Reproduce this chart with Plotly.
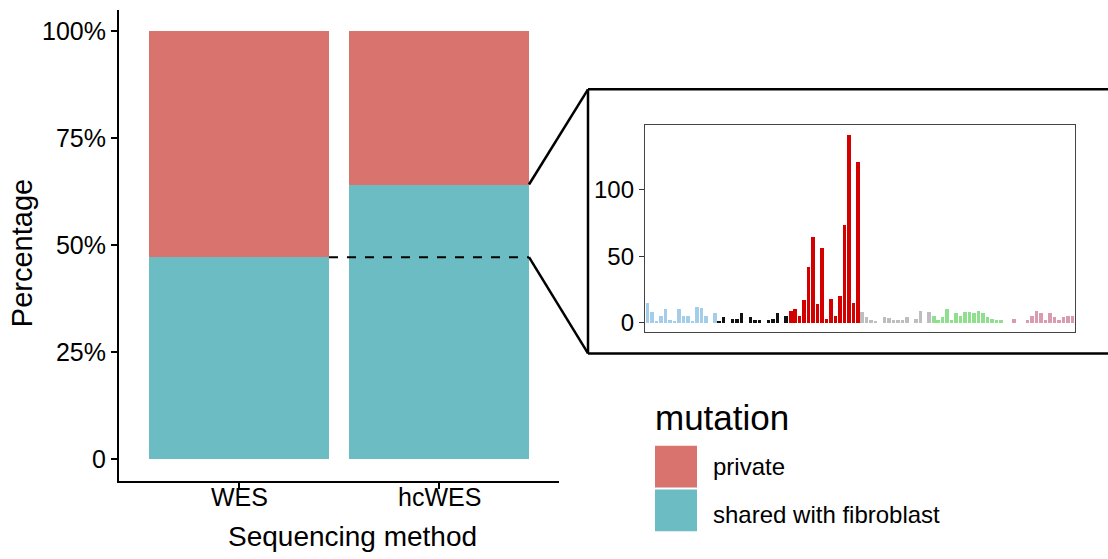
import plotly.graph_objects as go

# ---- main stacked bars: share of mutations per sequencing method ----
methods = ["WES", "hcWES"]
shared_pct = [47.2, 64.2]
private_pct = [100 - v for v in shared_pct]
y_tickvals = [0, 25, 50, 75, 100]
y_ticktext = ["0", "25%", "50%", "75%", "100%"]

# ---- inset: 96-channel substitution spectrum (counts) ----
ca_counts = [15, 8, 1, 5, 10, 2, 0.5, 10, 5, 5, 1, 12, 11, 5, 0, 7]
cg_counts = [1, 4, 0, 2.5, 2.5, 7, 0, 4, 2, 2, 0, 2, 3, 7, 0, 5]
ct_counts = [9, 10, 5, 17, 42, 64, 14, 56, 3, 18, 5, 20, 73, 141, 15, 121]
ta_counts = [8, 4, 2, 1, 0, 4, 3.5, 2, 2, 2, 4, 0, 3, 9, 0, 8]
tc_counts = [5, 2, 4, 10, 2, 7, 5, 8, 8, 7, 9, 7, 4, 3, 2, 2]
tg_counts = [0, 0, 3, 0, 0, 2, 5, 9, 7, 2, 7, 4, 2, 4, 5, 5]
inset_ticks = [0, 50, 100]

W, H = 1108, 559
RED = "#D9736D"
TEAL = "#6BBDC3"
FONT = "Liberation Sans"
group_colors = ["#A3CDE8", "#111111", "#D40000", "#BEBEBE", "#8FDF8F", "#D89BB1"]
groups = [ca_counts, cg_counts, ct_counts, ta_counts, tc_counts, tg_counts]

spectrum = []
spectrum_colors = []
for vals, col in zip(groups, group_colors):
    spectrum += vals
    spectrum_colors += [col] * len(vals)
channel = list(range(len(spectrum)))


def px_x(p):
    return p / W


def px_y(p):
    return 1 - p / H


# axis placement (pixels)
main_left, main_right, main_top, main_bottom = 119, 559, 10, 484
main_xrange = [-0.6, 1.6]
main_yrange = [-5, 105]
ins_left, ins_right, ins_top, ins_bottom = 645, 1075, 126, 334


def main_to_px(xv, yv):
    px = main_left + (xv - main_xrange[0]) / (main_xrange[1] - main_xrange[0]) * (main_right - main_left)
    py = main_bottom - (yv - main_yrange[0]) / (main_yrange[1] - main_yrange[0]) * (main_bottom - main_top)
    return px, py


fig = go.Figure()
fig.add_trace(go.Bar(x=methods, y=shared_pct, marker=dict(color=TEAL, line=dict(width=0)),
                     width=0.9, name="shared with fibroblast", xaxis="x", yaxis="y", showlegend=False))
fig.add_trace(go.Bar(x=methods, y=private_pct, marker=dict(color=RED, line=dict(width=0)),
                     width=0.9, name="private", xaxis="x", yaxis="y", showlegend=False))
fig.add_trace(go.Bar(x=channel, y=spectrum, marker=dict(color=spectrum_colors, line=dict(width=0)),
                     width=0.8, xaxis="x2", yaxis="y2", showlegend=False))

shapes = []
# dashed guide at the WES shared level, running across hcWES
shapes.append(dict(type="line", xref="x", yref="y", x0=0.45, x1=1.45,
                   y0=shared_pct[0], y1=shared_pct[0],
                   line=dict(color="black", width=2, dash="dash")))

# zoom connector lines from the hcWES bar to the inset frame
frame_l, frame_t, frame_b = 588, 90, 356
hx, hy_top = main_to_px(1.45, shared_pct[1])
_, hy_low = main_to_px(1.45, shared_pct[0])
shapes.append(dict(type="line", xref="paper", yref="paper",
                   x0=px_x(hx), y0=px_y(hy_top), x1=px_x(frame_l), y1=px_y(frame_t),
                   line=dict(color="black", width=2.5)))
shapes.append(dict(type="line", xref="paper", yref="paper",
                   x0=px_x(hx), y0=px_y(hy_low), x1=px_x(frame_l), y1=px_y(frame_b),
                   line=dict(color="black", width=2.5)))
# inset frame (open to the right edge)
for (x0, y0, x1, y1) in [(frame_l, frame_t, W + 5, frame_t),
                         (frame_l, frame_t, frame_l, frame_b),
                         (frame_l, frame_b, W + 5, frame_b)]:
    shapes.append(dict(type="line", xref="paper", yref="paper",
                       x0=px_x(x0), y0=px_y(y0), x1=px_x(x1), y1=px_y(y1),
                       line=dict(color="black", width=2.5)))

# legend keys
key_l, key_r = 655, 697
for (t, b, col) in [(449, 491, RED), (493, 535, TEAL)]:
    shapes.append(dict(type="rect", xref="paper", yref="paper",
                       x0=px_x(key_l), x1=px_x(key_r), y0=px_y(b), y1=px_y(t),
                       fillcolor=col, line=dict(width=0)))

annotations = [
    dict(text="Percentage", x=px_x(22), y=px_y(255), xref="paper", yref="paper",
         textangle=-90, showarrow=False, font=dict(size=29, color="black", family=FONT),
         xanchor="center", yanchor="middle"),
    dict(text="Sequencing method", x=px_x(352), y=px_y(540), xref="paper", yref="paper",
         showarrow=False, font=dict(size=28, color="black", family=FONT),
         xanchor="center", yanchor="middle"),
    dict(text="mutation", x=px_x(653), y=px_y(421), xref="paper", yref="paper",
         showarrow=False, font=dict(size=35, color="black", family=FONT),
         xanchor="left", yanchor="middle"),
    dict(text="private", x=px_x(711), y=px_y(470), xref="paper", yref="paper",
         showarrow=False, font=dict(size=24, color="black", family=FONT),
         xanchor="left", yanchor="middle"),
    dict(text="shared with fibroblast", x=px_x(711), y=px_y(518), xref="paper", yref="paper",
         showarrow=False, font=dict(size=24, color="black", family=FONT),
         xanchor="left", yanchor="middle"),
]
# category labels under the main bars
for i, m in enumerate(methods):
    cx, _ = main_to_px(i, 0)
    annotations.append(dict(text=m, x=px_x(cx), y=px_y(501), xref="paper", yref="paper",
                            showarrow=False, font=dict(size=25, color="black", family=FONT),
                            xanchor="center", yanchor="middle"))

fig.update_layout(
    width=W, height=H,
    margin=dict(l=0, r=0, t=0, b=0),
    paper_bgcolor="white", plot_bgcolor="rgba(0,0,0,0)",
    barmode="stack", bargap=0,
    font=dict(family=FONT, color="black"),
    xaxis=dict(domain=[px_x(main_left), px_x(main_right)], range=main_xrange,
               type="category", showline=True, linecolor="black", linewidth=2,
               ticks="outside", ticklen=6, tickwidth=2, tickcolor="black",
               showticklabels=False, showgrid=False, zeroline=False),
    yaxis=dict(domain=[px_y(main_bottom), px_y(main_top)], range=main_yrange,
               showline=True, linecolor="black", linewidth=2,
               tickvals=y_tickvals, ticktext=y_ticktext,
               ticks="outside", ticklen=6, tickwidth=2, tickcolor="black",
               showgrid=False, zeroline=False, tickfont=dict(size=25, color="black")),
    xaxis2=dict(domain=[px_x(ins_left), px_x(ins_right)], range=[-0.6, 95.6],
                anchor="y2", showline=True, mirror=True, linecolor="#444444", linewidth=1.3,
                showticklabels=False, ticks="", showgrid=False, zeroline=False),
    yaxis2=dict(domain=[px_y(ins_bottom), px_y(ins_top)], range=[-6.7, 148.5],
                anchor="x2", showline=True, mirror=True, linecolor="#444444", linewidth=1.3,
                tickvals=inset_ticks, ticks="outside", ticklen=5, tickwidth=1.3, tickcolor="#333333",
                showgrid=False, zeroline=False, tickfont=dict(size=24, color="black")),
    shapes=shapes,
    annotations=annotations,
)

fig.write_html("out.html")
